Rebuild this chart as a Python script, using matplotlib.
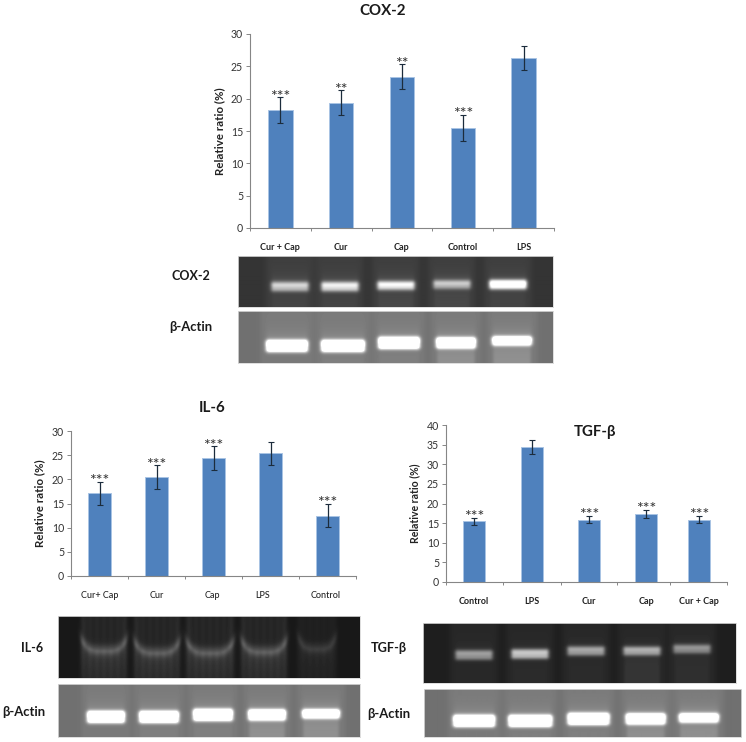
import numpy as np
import matplotlib
matplotlib.use("Agg")
import matplotlib.pyplot as plt

plt.rcParams['font.family'] = ['Lato', 'Open Sans', 'DejaVu Sans']

W, H = 746, 742

# chart data
cox_labels = ['Cur + Cap', 'Cur', 'Cap', 'Control', 'LPS']
cox_values = [18.2, 19.4, 23.4, 15.5, 26.3]
cox_errors = [2.0, 1.9, 1.9, 2.0, 1.9]
cox_stars = ['***', '**', '**', '***', '']

il6_labels = ['Cur+ Cap', 'Cur', 'Cap', 'LPS', 'Control']
il6_values = [17.1, 20.5, 24.4, 25.4, 12.5]
il6_errors = [2.4, 2.4, 2.4, 2.4, 2.4]
il6_stars = ['***', '***', '***', '', '***']

tgf_labels = ['Control', 'LPS', 'Cur', 'Cap', 'Cur + Cap']
tgf_values = [15.5, 34.5, 15.9, 17.4, 15.9]
tgf_errors = [0.9, 1.8, 0.9, 1.0, 0.9]
tgf_stars = ['***', '', '***', '***', '***']

# gel band brightness, one per lane
cox_band = [0.56, 0.68, 0.74, 0.52, 1.0]
cox_actin = [1.0, 1.0, 1.0, 1.0, 1.0]
il6_band = [0.42, 0.42, 0.42, 0.42, 0.22]
il6_actin = [1.0, 1.0, 1.0, 1.0, 1.0]
tgf_band = [0.46, 0.64, 0.50, 0.54, 0.42]
tgf_actin = [1.0, 1.0, 1.0, 1.0, 1.0]

fig = plt.figure(figsize=(W / 100, H / 100), dpi=100)


def px_axes(x0, y0, x1, y1):
    # pixel box, y counted from the top of the picture
    return fig.add_axes([x0 / W, 1 - y1 / H, (x1 - x0) / W, (y1 - y0) / H])


def bar_chart(box, ymax, labels, values, errors, stars, xpos, edges, label_x, weight, ylabel_x, ylabel_size):
    ax = px_axes(*box)
    ax.bar(xpos, values, width=0.4, color='#4F81BD', edgecolor='#A9C4E4', linewidth=0.7)
    ax.errorbar(xpos, values, yerr=errors, fmt='none', ecolor='#1c2c3c', elinewidth=0.9, capsize=2, capthick=0.8)
    for x, v, e, s in zip(xpos, values, errors, stars):
        if s:
            ax.annotate(s, (x, v + e), xytext=(0, -2.4), textcoords='offset points', ha='center', va='baseline',
                        fontsize=11.5, color='#333333')
    ax.set_xlim(edges[0], edges[-1])
    ax.set_ylim(0, ymax)
    ax.set_xticks(edges)
    ax.set_xticklabels([])
    ax.set_xticks(label_x, labels, minor=True)
    ax.tick_params(axis='x', which='minor', length=0, pad=11, labelsize=6.5, labelcolor='#222222')
    ax.tick_params(axis='x', which='major', length=2.5, width=0.7, color='#868686')
    for t in ax.get_xticklabels(minor=True):
        t.set_fontweight(weight)
    ax.set_yticks(np.arange(0, ymax + 1, 5))
    ax.tick_params(axis='y', length=3, width=0.7, color='#868686', labelsize=7.6, labelcolor='#333333', pad=2)
    for s in ['top', 'right']:
        ax.spines[s].set_visible(False)
    for s in ['left', 'bottom']:
        ax.spines[s].set_color('#868686')
        ax.spines[s].set_linewidth(0.8)
    fig.text(ylabel_x / W, 1 - (box[1] + box[3]) / 2 / H, 'Relative ratio (%)', rotation=90, ha='center', va='center',
             fontsize=ylabel_size, fontweight='bold', color='#222222')
    return ax


def soft_box(xx, yy, cx, cy, hw, hh, sx, sy):
    dx = np.maximum(np.abs(xx - cx) - hw, 0) / sx
    dy = np.maximum(np.abs(yy - cy) - hh, 0) / sy
    return np.exp(-dx ** 2 - dy ** 2)


def blur(img, sigma):
    r = int(3 * sigma) + 1
    k = np.exp(-0.5 * (np.arange(-r, r + 1) / sigma) ** 2)
    k /= k.sum()
    pad = np.pad(img, r, mode='edge')
    pad = np.apply_along_axis(lambda m: np.convolve(m, k, mode='same'), 0, pad)
    pad = np.apply_along_axis(lambda m: np.convolve(m, k, mode='same'), 1, pad)
    return pad[r:-r, r:-r]


def draw_gel(box, img, sigma=1.1):
    ax = px_axes(*box)
    ax.imshow(np.clip(blur(img, sigma), 0, 255), cmap='gray', vmin=0, vmax=255, aspect='auto', interpolation='bilinear')
    ax.set_xticks([])
    ax.set_yticks([])
    for s in ax.spines.values():
        s.set_color('#d8d8d8')
        s.set_linewidth(0.6)


def gel(box, bg, lanes, band, cy, hw, hh, glow, lane_gain, gain=0.9, tail=(0, 0, 0, 0, 0)):
    x0, y0, x1, y1 = box
    xx, yy = np.meshgrid(np.arange(x0, x1) + 0.5, np.arange(y0, y1) + 0.5)
    img = np.full(xx.shape, float(bg))
    for cx, b, y, w, h, t in zip(lanes, band, cy, hw, hh, tail):
        # lighter column along the whole lane
        img += lane_gain * soft_box(xx, yy, cx, (y0 + y1) / 2, w + 4, y1 - y0, 5, 50)
        # halo above the band and faint trail under it
        img += glow * np.exp(-np.maximum(y - yy, 0) / 7.0) * (yy < y) * soft_box(xx, yy, cx, y, w, 100, 3, 100)
        img += t * (yy > y) * (1 - np.exp(-np.maximum(yy - y - h, 0) / 4.0)) * soft_box(xx, yy, cx, y, w, 100, 2, 100)
        img += 255 * gain * b * soft_box(xx, yy, cx, y, w, h, 3, 2.6)
    draw_gel(box, img)


def smear_gel(box, bg, lanes, band, cy, hw):
    # the IL-6 lanes are a bowed smear that climbs the lane edges
    x0, y0, x1, y1 = box
    xx, yy = np.meshgrid(np.arange(x0, x1) + 0.5, np.arange(y0, y1) + 0.5)
    img = np.full(xx.shape, float(bg))
    for cx, b, y, w in zip(lanes, band, cy, hw):
        u = (xx - cx) / w
        inside = np.exp(-np.maximum(np.abs(u) - 1, 0) ** 2 * 60)
        curve = y - 9 * u ** 4
        arc = np.exp(-((yy - curve) / 5.0) ** 2) * inside
        below = np.exp(-np.maximum(yy - curve, 0) / 22) * (yy > curve) * inside
        rim = np.exp(-((np.abs(u) - 0.96) / 0.10) ** 2) * (yy < curve + 3)
        streak = 0.85 + 0.15 * np.cos((xx - cx) * 0.9)
        img += 255 * b * (0.40 * arc + 0.26 * below * streak + 0.12 * rim * (0.3 + 0.7 * (yy - y0) / (y1 - y0)))
        img += 40 * b * inside * streak
    draw_gel(box, img, 1.3)


def label(x, y, s, size=11.5, ha='center'):
    fig.text(x / W, 1 - y / H, s, ha=ha, va='center', fontsize=size, fontweight='bold', color='#1a1a1a')


uniform = [0, 1, 2, 3, 4]
uniform_edges = [-0.5, 0.5, 1.5, 2.5, 3.5, 4.5]

bar_chart((250, 34, 554, 228), 30, cox_labels, cox_values, cox_errors, cox_stars,
          uniform, uniform_edges, uniform, 'bold', 220, 8.3)
bar_chart((71, 431, 356, 576), 30, il6_labels, il6_values, il6_errors, il6_stars,
          uniform, uniform_edges, [0, 1, 1.98, 2.86, 3.97], 'medium', 40, 8.3)
bar_chart((446, 425, 727, 582), 40, tgf_labels, tgf_values, tgf_errors, tgf_stars,
          [0, 1.03, 2.04, 3.06, 4.0], [-0.5, 0.51, 1.54, 2.55, 3.49, 4.5], [0, 1.03, 2.05, 3.07, 4.0], 'bold', 415, 7.6)

# COX-2 gels
gel((238, 256, 553, 307), 52, [290, 340, 396, 452, 508], cox_band, [287, 287, 286, 285, 285],
    [16, 16, 16, 16, 16], [2.2, 2.2, 1.8, 1.8, 2.0], 38, 10, tail=(6, 6, 10, 10, 6))
gel((238, 311, 553, 363), 112, [287, 343, 399, 456, 512], cox_actin, [346, 346, 343, 343, 341],
    [18, 19, 18, 17, 17], [3.5, 3.5, 3.5, 3, 2], 55, 10, tail=(0, 5, 5, 22, 22))

# IL-6 gels
smear_gel((58, 616, 360, 678), 24, [104, 157, 210, 264, 317], il6_band, [650, 652, 652, 651, 648],
          [21, 21, 22, 21, 17.5])
gel((58, 684, 360, 737), 112, [106, 159, 213, 267, 321], il6_actin, [717, 717, 715, 715, 714],
    [16, 17, 17, 16, 16], [3.5, 3.5, 3.5, 3, 2], 55, 10, tail=(0, 5, 5, 22, 22))

# TGF-beta gels
gel((423, 623, 736, 683), 30, [474, 530, 586, 642, 692], tgf_band, [655, 654, 651, 651, 649],
    [16, 16, 16, 16, 16], [2.4, 2.4, 2.2, 2, 2], 20, 9, tail=(2, 4, 4, 14, 8))
gel((424, 689, 741, 737), 112, [474, 530, 588, 645, 698], tgf_actin, [721, 721, 719, 719, 718],
    [18, 19, 18, 17, 17], [3.5, 3.5, 3.5, 3, 2], 55, 10, tail=(0, 5, 5, 22, 22))

# titles and gel labels
label(383, 11, 'COX-2', 10.8)
label(212, 408, 'IL-6', 10.8)
label(595, 432, 'TGF-β', 10.8)
label(191, 276, 'COX-2', 9.0)
label(191, 327, 'β-Actin', 9.4)
label(32, 648, 'IL-6', 9.0)
label(24, 712, 'β-Actin', 9.4)
label(389, 648, 'TGF-β', 9.2)
label(389, 714, 'β-Actin', 9.4)

fig.savefig('out.png', dpi=100)
